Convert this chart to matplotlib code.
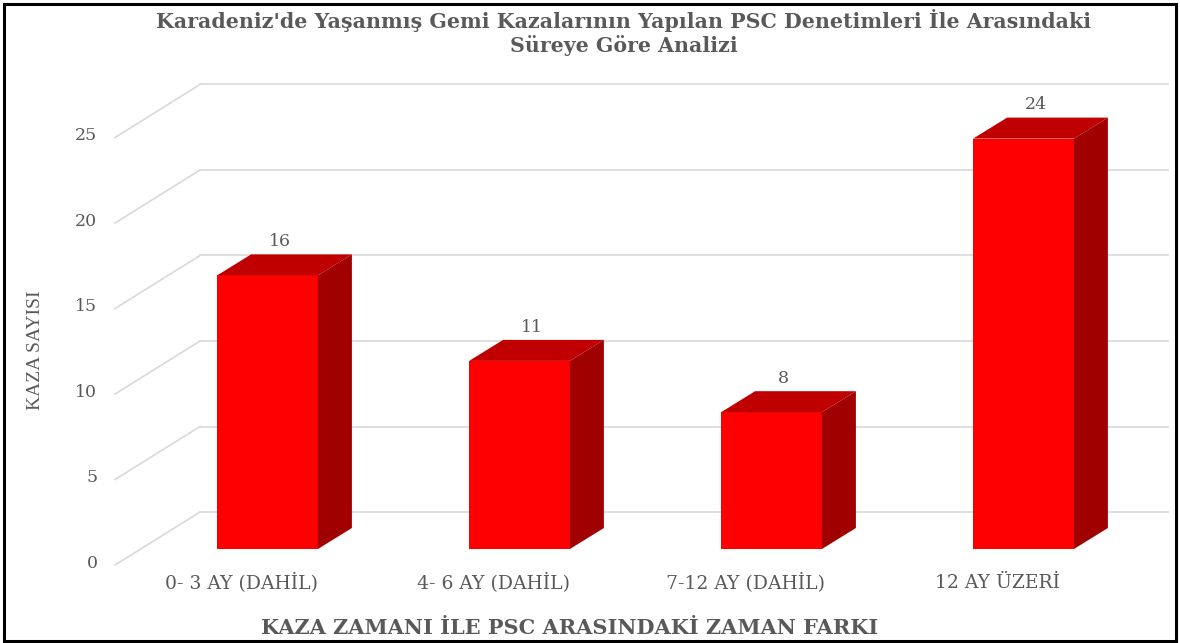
import matplotlib
matplotlib.use("Agg")
import matplotlib.pyplot as plt
from matplotlib.patches import Polygon, Rectangle

# ---- data ----
categories = ["0- 3 AY (DAHİL)", "4- 6 AY (DAHİL)", "7-12 AY (DAHİL)", "12 AY ÜZERİ"]
values = [16, 11, 8, 24]
yticks = [0, 5, 10, 15, 20, 25]
title_lines = ["Karadeniz'de Yaşanmış Gemi Kazalarının Yapılan PSC Denetimleri İle Arasındaki",
               "Süreye Göre Analizi"]
xlabel = "KAZA ZAMANI İLE PSC ARASINDAKİ ZAMAN FARKI"
ylabel = "KAZA SAYISI"

# ---- style ----
W, H = 1180, 643
TXT = "#595959"
GRID = "#d9d9d9"
FRONT, TOP, SIDE = "#ff0000", "#c00000", "#a00000"
WIDE = ["DejaVu Serif"]
TIMES = ["Liberation Serif", "DejaVu Serif"]

# pixel mapping of the bar-front plane
PX_CAT, X0_PX = 252.0, 267.5
PX_VAL, Y0_PX = 17.1, 549.0

fig = plt.figure(figsize=(W / 100, H / 100), dpi=100)
ax = fig.add_axes([0, 0, 1, 1])
ax.set_xlim((0 - X0_PX) / PX_CAT, (W - X0_PX) / PX_CAT)
ax.set_ylim((Y0_PX - H) / PX_VAL, (Y0_PX - 0) / PX_VAL)
ax.axis("off")

# depth offsets (data units)
dxw, dyw = 59.3 / PX_CAT, 37.0 / PX_VAL      # back wall
dxf, dyf = -25.7 / PX_CAT, -16.0 / PX_VAL    # front edge of floor
dxb, dyb = 34.0 / PX_CAT, 21.0 / PX_VAL      # bar depth
left = -0.503
right_back = (1168 - X0_PX) / PX_CAT
bw = 0.4

# gridlines
for t in yticks:
    ax.plot([left + dxf, left + dxw], [t + dyf, t + dyw], color=GRID, lw=1.2, zorder=1)
    ax.plot([left + dxw, right_back], [t + dyw, t + dyw], color=GRID, lw=1.2, zorder=1)
    ax.text(left + dxf - 0.07, t + dyf + 0.1, str(t), ha="right", va="center",
            fontsize=12.5, color=TXT, family=WIDE)

# bars
xs = list(range(len(values)))
ax.bar(xs, values, width=bw, color=FRONT, zorder=3, linewidth=0)
for x, v in zip(xs, values):
    x0, x1 = x - bw / 2, x + bw / 2
    ax.add_patch(Polygon([(x0, v), (x1, v), (x1 + dxb, v + dyb), (x0 + dxb, v + dyb)],
                         closed=True, facecolor=TOP, edgecolor="none", zorder=3))
    ax.add_patch(Polygon([(x1, 0), (x1 + dxb, dyb), (x1 + dxb, v + dyb), (x1, v)],
                         closed=True, facecolor=SIDE, edgecolor="none", zorder=3))
    ax.text(x + dxb / 2 - 0.02, v + dyb + 0.25, str(v), ha="center", va="bottom",
            fontsize=12.5, color=TXT, family=WIDE)
    ax.text(x + dxf, -2.0, categories[x], ha="center", va="center",
            fontsize=13.5, color=TXT, family=WIDE)

# titles
fig.text(624 / W, 1 - 20 / H, title_lines[0], ha="center", va="center", fontsize=14.8,
         fontweight="bold", color=TXT, family=WIDE)
fig.text(624 / W, 1 - 46 / H, title_lines[1], ha="center", va="center", fontsize=14.8,
         fontweight="bold", color=TXT, family=WIDE)
fig.text(570 / W, 1 - 628 / H, xlabel, ha="center", va="center", fontsize=15,
         fontweight="bold", color=TXT, family=WIDE)
fig.text(35 / W, 1 - 350 / H, ylabel, ha="center", va="center", fontsize=14,
         rotation=90, color=TXT, family=TIMES)

# outer frame
fig.patches.append(Rectangle((4 / W, 2 / H), (W - 8) / W, (H - 6) / H, transform=fig.transFigure,
                             fill=False, edgecolor="black", lw=2.2, zorder=10))

fig.savefig("out.png", dpi=100, facecolor="white")
